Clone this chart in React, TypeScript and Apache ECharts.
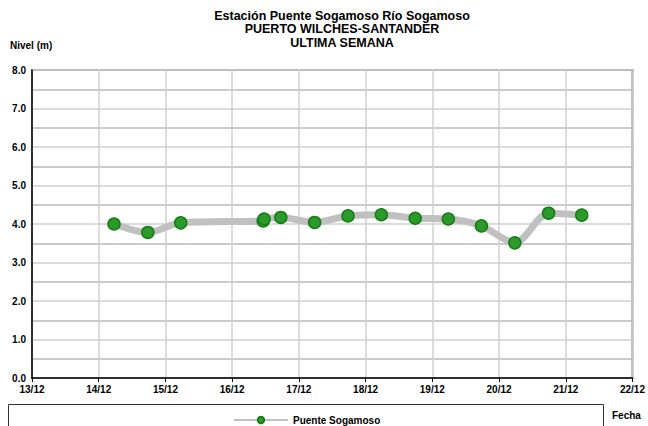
import React, { useEffect, useRef } from "react";
import * as echarts from "echarts";

const titleLines = ["Estación Puente Sogamoso Río Sogamoso", "PUERTO WILCHES-SANTANDER", "ULTIMA SEMANA"];
const seriesName = "Puente Sogamoso";
const times = [
  "2023-12-14T05:30", "2023-12-14T17:40", "2023-12-15T05:30", "2023-12-16T11:10",
  "2023-12-16T11:30", "2023-12-16T17:30", "2023-12-17T05:40", "2023-12-17T17:40",
  "2023-12-18T05:40", "2023-12-18T17:50", "2023-12-19T05:45", "2023-12-19T17:40",
  "2023-12-20T05:40", "2023-12-20T17:50", "2023-12-21T05:45",
];
const levels = [4.0, 3.78, 4.03, 4.08, 4.13, 4.17, 4.04, 4.21, 4.24, 4.15, 4.13, 3.95, 3.51, 4.28, 4.23];
const xStart = "2023-12-13T00:00";
const xEnd = "2023-12-22T00:00";
const yMin = 0;
const yMax = 8;

const toUTC = (s: string) => Date.parse(s + ":00Z");
const DAY = 86400000;
const FONT = "Liberation Sans";

export default function App() {
  const ref = useRef<HTMLDivElement>(null);
  useEffect(() => {
    if (!ref.current) return;
    const chart = echarts.init(ref.current, null, { renderer: "svg" });
    const data = times.map((t, i) => [toUTC(t), levels[i]]);
    chart.setOption({
      animation: false,
      backgroundColor: "#ffffff",
      textStyle: { fontFamily: FONT },
      grid: {
        left: 32, right: 15, top: 70, bottom: 48,
        show: true, borderColor: "#8c8c8c", borderWidth: 2, backgroundColor: "transparent",
      },
      xAxis: {
        type: "value",
        min: toUTC(xStart),
        max: toUTC(xEnd),
        interval: DAY,
        axisLine: { show: true, onZero: false, lineStyle: { color: "#000", width: 1.5 } },
        axisTick: { show: true, length: 4, lineStyle: { color: "#000" } },
        axisLabel: {
          color: "#000", fontWeight: "bold", fontSize: 10, fontFamily: FONT, margin: 6,
          formatter: (v: number) => {
            const d = new Date(v);
            return String(d.getUTCDate()).padStart(2, "0") + "/" + String(d.getUTCMonth() + 1).padStart(2, "0");
          },
        },
        splitLine: { show: true, lineStyle: { color: "#d0d0d0", width: 1.5 } },
      },
      yAxis: {
        type: "value",
        min: yMin,
        max: yMax,
        interval: 0.5,
        axisLine: { show: true, lineStyle: { color: "#000", width: 1.5 } },
        axisTick: { show: false },
        axisLabel: {
          color: "#000", fontWeight: "bold", fontSize: 10, fontFamily: FONT, margin: 6,
          formatter: (v: number) => (Math.abs(v % 1) < 1e-9 ? v.toFixed(1) : ""),
        },
        splitLine: { show: true, lineStyle: { color: ["#cfcfcf", "#b8b8b8"], width: 1.5 } },
      },
      legend: {
        show: true,
        left: 228,
        top: 410,
        itemWidth: 54,
        itemHeight: 8,
        itemGap: 4,
        textStyle: { color: "#000", fontWeight: "bold", fontSize: 10, fontFamily: FONT },
        data: [seriesName],
      },
      graphic: [
        ...titleLines.map((t, i) => ({
          type: "text",
          x: 342,
          y: 9 + i * 13.5,
          style: { text: t, fill: "#000", font: `bold 12.5px "${FONT}"`, textAlign: "center" },
        })),
        {
          type: "text", left: 10, top: 40,
          style: { text: "Nivel (m)", fill: "#000", font: `bold 10px "${FONT}"` },
        },
        {
          type: "rect",
          shape: { x: 8.5, y: 404.5, width: 595, height: 40 },
          style: { fill: "none", stroke: "#333", lineWidth: 1 },
        },
        {
          type: "text", left: 612, top: 410,
          style: { text: "Fecha", fill: "#000", font: `bold 10px "${FONT}"` },
        },
      ],
      series: [
        {
          name: seriesName,
          type: "line",
          data,
          smooth: 0.3,
          symbol: "circle",
          symbolSize: 12,
          lineStyle: { color: "#c0c0c0", width: 7 },
          itemStyle: { color: "#2b9a2b", borderColor: "#167c16", borderWidth: 1.5 },
        },
      ],
    });
    return () => chart.dispose();
  }, []);
  return <div ref={ref} style={{ width: 648, height: 426, position: "absolute", left: 0, top: 0 }} />;
}
